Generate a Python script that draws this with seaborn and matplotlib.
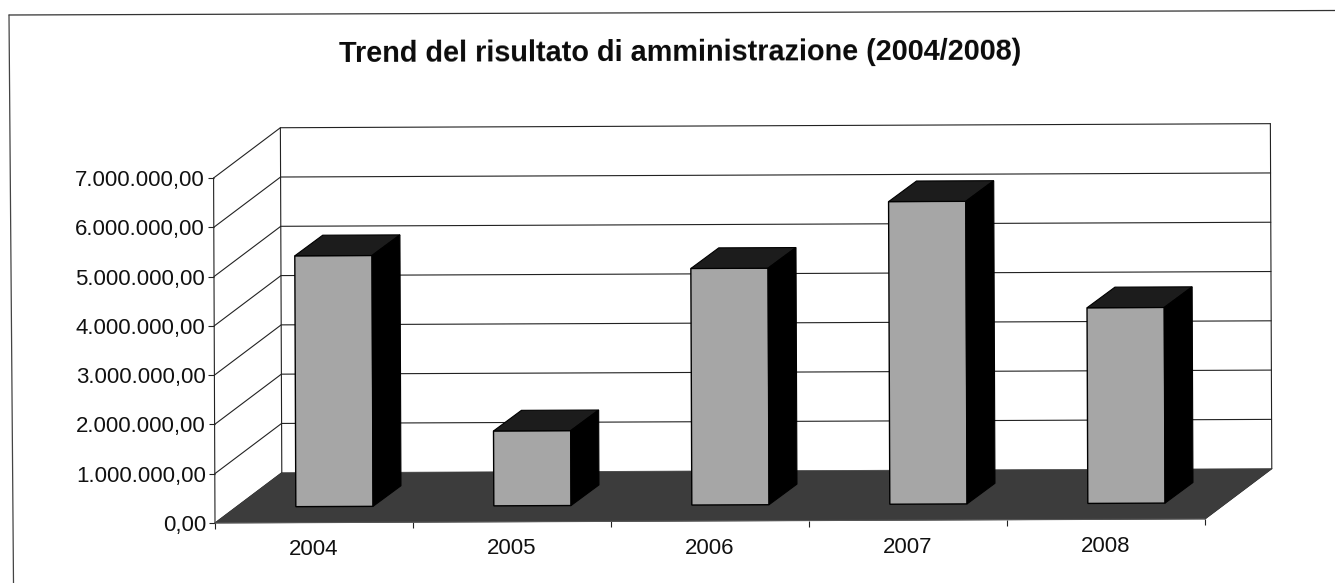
import matplotlib
matplotlib.use("Agg")
import matplotlib.pyplot as plt
from matplotlib.lines import Line2D
from matplotlib.patches import Polygon
from matplotlib.transforms import Affine2D
import pandas as pd
import seaborn as sns

years = ["2004", "2005", "2006", "2007", "2008"]
values = [5090000, 1520000, 4800000, 6140000, 3970000]
y_ticks = [0, 1000000, 2000000, 3000000, 4000000, 5000000, 6000000, 7000000]
y_labels = ["0,00", "1.000.000,00", "2.000.000,00", "3.000.000,00",
            "4.000.000,00", "5.000.000,00", "6.000.000,00", "7.000.000,00"]
title = "Trend del risultato di amministrazione (2004/2008)"

W, H = 1335, 583
sns.set_theme(style="white")
plt.rcParams["font.family"] = ["Liberation Sans", "DejaVu Sans"]

fig = plt.figure(figsize=(W / 100, H / 100), dpi=100, facecolor="white")
ax = fig.add_axes([215 / W, (H - 523) / H, 990 / W, 345 / H])
ax.patch.set_visible(False)

df = pd.DataFrame({"anno": years, "valore": values})
sns.barplot(data=df, x="anno", y="valore", color="#a6a6a6", saturation=1,
            width=0.39, edgecolor="black", linewidth=1.0, ax=ax, zorder=5)

ax.set_xlim(-0.5, 4.5)
ax.set_ylim(0, 7000000)
ax.set_xlabel("")
ax.set_ylabel("")
for s in ax.spines.values():
    s.set_visible(False)

# pixel-to-data scale of the front plane
ux = 5 / 990
uy = 7000000 / 345
wall_dx, wall_dy = 67 * ux, 50 * uy
bar_dx, bar_dy = 28 * ux, 20.5 * uy

# slight tilt of the scanned page, about the chart origin
rot = Affine2D().rotate_deg_around(215, H - 523, 0.235)
tilt = ax.transData + rot
bar_tf = ax.transData + Affine2D().translate(20.5, 16) + rot

x0, x1 = -0.5, 4.5
top = 7000000
line_kw = dict(color="#222222", lw=0.8, clip_on=False, transform=tilt, zorder=2)

# floor
ax.add_patch(Polygon([(x0, 0), (x1, 0), (x1 + wall_dx, wall_dy), (x0 + wall_dx, wall_dy)],
                     closed=True, facecolor="#3c3c3c", edgecolor="#3c3c3c", lw=0.5,
                     clip_on=False, transform=tilt, zorder=3))
# gridlines on the back and left walls
for v in y_ticks[1:]:
    ax.add_line(Line2D([x0, x0 + wall_dx, x1 + wall_dx],
                       [v, v + wall_dy, v + wall_dy], **line_kw))
# wall frame
ax.add_line(Line2D([x0, x0], [0, top], **line_kw))
ax.add_line(Line2D([x0 + wall_dx, x0 + wall_dx], [wall_dy, top + wall_dy], **line_kw))
ax.add_line(Line2D([x1 + wall_dx, x1 + wall_dx], [wall_dy, top + wall_dy], **line_kw))
ax.add_line(Line2D([x0, x0 + wall_dx], [0, wall_dy], **line_kw))
ax.add_line(Line2D([x1, x1 + wall_dx], [0, wall_dy], **line_kw))
ax.add_line(Line2D([x0, x1], [0, 0], color="#555555", lw=0.8, clip_on=False,
                   transform=tilt, zorder=4))

# 3D bar faces, derived from the bars seaborn drew
for bar in list(ax.patches):
    if not hasattr(bar, "get_width"):
        continue
    bx0, bx1 = bar.get_x(), bar.get_x() + bar.get_width()
    bh = bar.get_height()
    bar.set_transform(bar_tf)
    bar.set_clip_on(False)
    ax.add_patch(Polygon([(bx0, bh), (bx1, bh), (bx1 + bar_dx, bh + bar_dy), (bx0 + bar_dx, bh + bar_dy)],
                         closed=True, facecolor="#1c1c1c", edgecolor="black", lw=0.8,
                         clip_on=False, transform=bar_tf, zorder=5))
    ax.add_patch(Polygon([(bx1, 0), (bx1 + bar_dx, bar_dy), (bx1 + bar_dx, bh + bar_dy), (bx1, bh)],
                         closed=True, facecolor="black", edgecolor="black", lw=0.8,
                         clip_on=False, transform=bar_tf, zorder=5))

# axis ticks and labels
ax.set_yticks(y_ticks, y_labels)
ax.set_xticks(range(5), years)
ax.set_xticks([-0.5, 0.5, 1.5, 2.5, 3.5, 4.5], minor=True)
ax.tick_params(axis="y", length=4, width=0.8, color="#222222", left=True,
               labelsize=16, pad=2.5, labelcolor="#111111")
ax.tick_params(axis="x", which="major", length=0, labelsize=16, pad=12, labelcolor="#111111")
ax.tick_params(axis="x", which="minor", length=4, width=0.8, color="#222222", bottom=True)

ticks = (ax.xaxis.get_major_ticks() + ax.xaxis.get_minor_ticks() + ax.yaxis.get_major_ticks())
for t in ticks:
    for art in (t.tick1line, t.label1):
        art.set_transform(art.get_transform() + rot)
for lab in ax.get_xticklabels() + ax.get_yticklabels():
    lab.set_rotation_mode("anchor")

fig.suptitle(title, x=680 / W, y=1 - 53 / H, ha="center", va="center", fontsize=20.8,
             fontweight="bold", color="#0a0a0a", rotation=0.2)

# chart frame
fig.add_artist(Line2D([9 / W, 1.0], [1 - 15 / H, 1 - 10.5 / H], color="#333333", lw=0.9))
fig.add_artist(Line2D([9 / W, 13.5 / W], [1 - 15 / H, 0.0], color="#444444", lw=0.9))

fig.savefig("out.png", dpi=100, facecolor="white")
